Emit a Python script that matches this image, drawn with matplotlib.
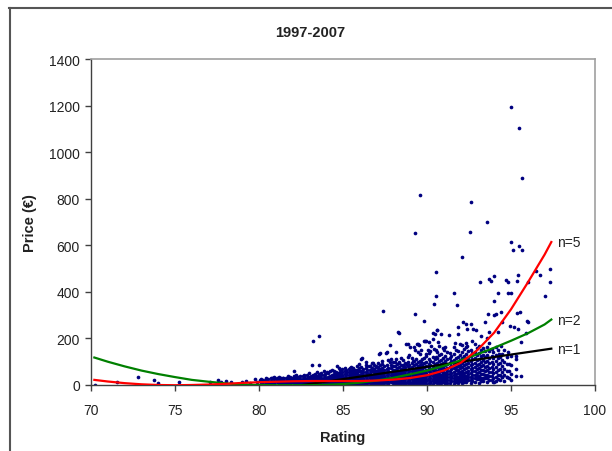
import matplotlib
matplotlib.use("Agg")
import matplotlib.pyplot as plt
from matplotlib.lines import Line2D

plt.rcParams["font.family"] = ["Liberation Sans", "DejaVu Sans"]

# wines rated below 80
tail_points = [(70.26, 2), (71.56, 14), (72.8, 33), (73.74, 21), (73.99, 9),
               (75.25, 12), (77.07, 12), (77.53, 23), (77.76, 14), (78.06, 18),
               (78.36, 14), (79.01, 14), (79.25, 16), (79.45, 8), (79.74, 26),
               (79.9, 12), (80.04, 21), (80.83, 30), (81.43, 30), (82.06, 59),
               (82.22, 33), (82.66, 40)]

# main cloud: one column of prices per rating
band_ratings = [80.1, 80.4, 80.7, 80.9, 81.2, 81.45, 81.7, 81.95, 82.2, 82.45,
                82.7, 82.95, 83.2, 83.45, 83.7, 83.95, 84.2, 84.45, 84.7, 84.95,
                85.2, 85.45, 85.7, 85.95, 86.2, 86.45, 86.7, 86.95, 87.2, 87.45,
                87.7, 87.95, 88.2, 88.45, 88.7, 88.95, 89.2, 89.45, 89.7, 89.95,
                90.2, 90.45, 90.7, 90.95, 91.2, 91.45, 91.7, 91.95, 92.2, 92.45,
                92.7, 92.95, 93.2, 93.45, 93.7, 93.95, 94.2, 94.45, 94.75, 95.0,
                95.3]
band_prices = [
    [8, 18, 27], [5, 14, 22, 30], [10, 19, 28], [6, 15, 24, 33],
    [9, 17, 26, 35], [4, 12, 21, 30], [8, 16, 25, 37], [11, 20, 29],
    [5, 14, 23, 33, 45], [9, 18, 27, 40], [3, 12, 21, 31, 42], [7, 16, 26, 36, 50],
    [4, 13, 22, 32, 44], [9, 18, 28, 39, 55], [2, 11, 20, 30, 41, 52], [6, 15, 24, 35, 47],
    [3, 12, 21, 30, 40, 58], [8, 17, 26, 36, 48, 62], [2, 10, 19, 28, 38, 50],
    [5, 14, 23, 33, 44, 57, 70],
    [3, 11, 20, 30, 41, 53, 66], [7, 16, 25, 35, 46, 60, 78], [2, 10, 19, 29, 40, 52, 65],
    [5, 14, 24, 34, 45, 58, 74, 90], [3, 12, 21, 31, 42, 55, 68],
    [8, 17, 27, 38, 50, 63, 80], [4, 13, 23, 33, 45, 58, 72, 95],
    [6, 15, 25, 36, 48, 61, 76], [3, 12, 22, 33, 44, 57, 70, 88],
    [8, 18, 28, 39, 51, 65, 82],
    [5, 14, 24, 35, 47, 60, 75, 108], [7, 17, 27, 38, 50, 64, 80, 97],
    [4, 13, 23, 34, 46, 59, 73, 90], [9, 19, 30, 41, 54, 68, 85, 118],
    [6, 15, 26, 37, 49, 62, 77, 95], [3, 12, 22, 33, 45, 58, 72, 88, 128],
    [8, 18, 29, 41, 54, 68, 84, 102], [5, 15, 26, 38, 51, 65, 80, 98, 140],
    [10, 20, 31, 43, 56, 70, 86, 110], [6, 16, 27, 39, 52, 66, 82, 100, 125],
    [9, 19, 30, 42, 55, 69, 85, 104, 145], [12, 22, 33, 45, 58, 73, 90, 112],
    [8, 18, 29, 41, 54, 68, 84, 102, 130], [14, 25, 37, 50, 64, 79, 96, 118, 160],
    [10, 21, 33, 46, 60, 75, 92, 112, 140], [16, 28, 40, 53, 67, 83, 101, 125],
    [12, 24, 36, 49, 63, 78, 95, 115, 150], [18, 30, 43, 57, 72, 88, 106, 130, 175],
    [14, 26, 39, 53, 68, 84, 102, 124, 155], [20, 33, 47, 62, 78, 96, 118, 145],
    [16, 29, 43, 58, 74, 92, 112, 138, 190], [24, 38, 53, 69, 86, 106, 130, 160],
    [18, 32, 47, 63, 80, 100, 124, 150, 210], [28, 44, 60, 78, 98, 120, 146],
    [22, 38, 55, 74, 95, 118, 144, 180], [12, 32, 50, 70, 92, 116, 140],
    [25, 44, 66, 90, 115, 150], [33, 55, 80, 108, 135], [33, 60, 90, 120],
    [20, 48, 85, 126], [40, 70, 110],
]

# second set of columns between the first ones
band2_ratings = [80.25, 80.55, 80.8, 81.05, 81.3, 81.6, 81.85, 82.1, 82.35, 82.6,
                 82.85, 83.1, 83.35, 83.6, 83.85, 84.1, 84.35, 84.6, 84.85, 85.1,
                 85.35, 85.6, 85.85, 86.1, 86.35, 86.6, 86.85, 87.1, 87.35, 87.6,
                 87.85, 88.1, 88.35, 88.6, 88.85, 89.1, 89.35, 89.6, 89.85, 90.1,
                 90.35, 90.6, 90.85, 91.1, 91.35, 91.6, 91.85, 92.1, 92.35, 92.6,
                 92.85, 93.1, 93.35, 93.6, 93.85, 94.1, 94.35, 94.6, 94.9]
band2_prices = [
    [12, 23], [9, 25], [14, 31], [11, 21, 28], [6, 14, 22, 31], [10, 19, 29],
    [6, 15, 24, 33], [9, 18, 28, 38], [4, 13, 23, 35], [8, 17, 26, 37],
    [5, 11, 21, 31, 45], [8, 18, 27, 38], [5, 14, 23, 34, 48], [7, 16, 25, 35, 46],
    [4, 10, 20, 30, 41, 58], [7, 16, 26, 35, 50], [4, 13, 22, 31, 43, 66],
    [6, 14, 23, 33, 44, 56], [9, 18, 28, 39, 50, 64], [7, 16, 25, 35, 47, 59, 75],
    [4, 12, 21, 31, 41, 54, 70], [6, 15, 24, 34, 46, 58, 72],
    [9, 19, 29, 40, 52, 66, 82], [7, 16, 26, 37, 48, 61, 76],
    [4, 13, 22, 33, 44, 57, 73, 88], [8, 18, 28, 39, 51, 65, 80],
    [10, 20, 30, 41, 54, 68, 86], [7, 17, 27, 38, 50, 63, 78, 96],
    [4, 14, 24, 35, 46, 59, 74, 92], [9, 19, 30, 42, 54, 68, 86],
    [11, 21, 32, 44, 57, 71, 88, 110], [8, 18, 29, 40, 52, 66, 82, 100],
    [5, 14, 25, 36, 48, 62, 78, 96], [10, 21, 32, 44, 57, 71, 88, 108],
    [7, 17, 28, 40, 52, 66, 81, 100, 122], [4, 14, 24, 36, 48, 62, 77, 94, 115],
    [10, 21, 33, 45, 59, 74, 90, 110], [7, 17, 29, 41, 54, 68, 84, 104, 132],
    [4, 13, 24, 35, 48, 62, 77, 94, 118], [9, 20, 32, 45, 58, 73, 90, 110, 138],
    [6, 16, 27, 39, 52, 66, 81, 98, 122], [10, 22, 35, 48, 62, 77, 94, 115, 142],
    [7, 19, 31, 44, 58, 73, 90, 108, 135], [5, 16, 28, 40, 53, 68, 84, 102, 125, 165],
    [9, 21, 34, 47, 61, 77, 94, 114, 138], [6, 18, 30, 43, 57, 72, 89, 108, 132, 162],
    [10, 23, 36, 50, 65, 80, 98, 120, 144], [8, 20, 33, 47, 62, 78, 96, 116, 140, 170],
    [12, 26, 40, 55, 71, 89, 108, 132, 165], [9, 22, 36, 51, 67, 84, 103, 126, 152],
    [14, 28, 43, 59, 76, 95, 116, 142, 178], [10, 24, 39, 55, 72, 90, 111, 136, 168],
    [16, 32, 48, 66, 85, 106, 130, 160], [12, 28, 45, 63, 83, 105, 130, 162, 200],
    [20, 38, 57, 78, 100, 125, 155], [16, 35, 56, 78, 103, 130, 165],
    [22, 44, 68, 95, 122], [18, 42, 70, 100, 150], [28, 58, 92],
]

# scattered points above the main cloud
upper_points = [(83.2, 187), (83.55, 212), (83.15, 87), (83.55, 86), (84.66, 83),
                (84.74, 72), (84.04, 54), (85.19, 61), (85.58, 66), (86.08, 112),
                (86.38, 97), (86.58, 83), (86.77, 93), (86.97, 83), (87.17, 133),
                (87.57, 137), (88.16, 112), (88.26, 226), (87.8, 172), (88.85, 176),
                (89.25, 162), (89.55, 172), (89.94, 190), (90.34, 223), (90.24, 169),
                (90.08, 152), (90.44, 155), (90.68, 183), (87.33, 104), (87.77, 97),
                (88.36, 100), (88.76, 90), (89.15, 104), (89.65, 97), (89.94, 133),
                (90.14, 83), (90.54, 119), (85.4, 73), (86.13, 115), (87.19, 137),
                (87.6, 140), (88.16, 140), (88.73, 176), (89.86, 189), (89.39, 176),
                (88.99, 164), (88.32, 224), (90.62, 236), (90.5, 219), (87.39, 316),
                (89.27, 306), (89.83, 276), (90.4, 346), (91.8, 342), (90.54, 382),
                (91.6, 393), (92.14, 272), (92.34, 260), (92.64, 260), (91.87, 250),
                (92.71, 240), (92.9, 237), (92.41, 240), (94.46, 272), (94.96, 252),
                (95.93, 276), (93.67, 229), (94.22, 229), (95.2, 250), (95.4, 240),
                (95.9, 223), (90.58, 237), (90.84, 219), (90.34, 197), (89.83, 190),
                (91.33, 215), (91.84, 219), (89.45, 175), (90.14, 183), (89.27, 150),
                (89.66, 150), (90.54, 150), (91.03, 150), (90.74, 169), (91.69, 180),
                (92.4, 166), (92.32, 180), (93.47, 272), (93.62, 306), (93.96, 302),
                (94.0, 360), (94.24, 393), (94.85, 393), (95.0, 393), (94.1, 305),
                (94.4, 312), (95.59, 183), (96.03, 269), (95.55, 315), (95.37, 309),
                (94.4, 169), (94.8, 140), (95.3, 126), (94.3, 133), (94.48, 33),
                (94.76, 33), (95.57, 37), (93.96, 12)]

# the most expensive wines
top_points = [(95.0, 1193), (95.45, 1104), (95.65, 888), (89.6, 817), (92.64, 787),
              (93.55, 700), (89.27, 651), (92.56, 655), (95.0, 615), (95.5, 595),
              (95.1, 579), (95.65, 579), (92.07, 549), (90.54, 484), (93.17, 443),
              (93.7, 455), (93.78, 448), (94.0, 468), (94.72, 452), (94.8, 443),
              (95.43, 473), (95.37, 448), (96.0, 443), (96.46, 491), (96.7, 473),
              (97.3, 498), (97.3, 443), (97.04, 382)]

# polynomial trendlines, degree 1, 2 and 5
fit_rating_n1 = [82.6, 90.0, 97.4]
fit_price_n1 = [0, 78, 156]
fit_rating = [70.2, 71, 72, 73, 74, 75, 76, 77, 78, 79, 80, 81, 82, 83, 84, 85,
              86, 87, 88, 89, 90, 91, 92, 93, 94, 95, 96, 97, 97.4]
fit_price_n2 = [118, 100, 80, 62, 47, 34, 22, 14, 7, 2, 0, -1, -1, -1, 1, 4,
                10, 19, 31, 46, 62, 82, 106, 132, 160, 190, 222, 260, 281]
fit_price_n5 = [22, 15, 8, 3, 0, -1, 0, 2, 5, 9, 12, 14, 16, 17, 17, 17,
                17, 19, 23, 30, 42, 62, 95, 150, 225, 325, 440, 560, 614]

# flatten everything into one scatter series
xs, ys = [], []
for r, p in tail_points + upper_points + top_points:
    xs.append(r)
    ys.append(p)
for ratings, prices in [(band_ratings, band_prices), (band2_ratings, band2_prices)]:
    for r, col in zip(ratings, prices):
        for p in col:
            xs.append(r)
            ys.append(p)

fig = plt.figure(figsize=(6.12, 4.52), dpi=100)
ax = fig.add_axes([91 / 612, 1 - 386 / 452, 504 / 612, 326 / 452])

ax.scatter(xs, ys, s=7, marker="o", color="#000080", linewidths=0, zorder=2)
ax.plot(fit_rating_n1, fit_price_n1, color="black", lw=1.6, zorder=3)
ax.plot(fit_rating, fit_price_n2, color="#008000", lw=1.6, zorder=4)
ax.plot(fit_rating, fit_price_n5, color="#ff0000", lw=1.6, zorder=5)

for rx, py, lab in [(fit_rating_n1[-1], fit_price_n1[-1], "n=1"),
                    (fit_rating[-1], fit_price_n2[-1], "n=2"),
                    (fit_rating[-1], fit_price_n5[-1], "n=5")]:
    ax.annotate(lab, (rx, py), xytext=(4, 0), textcoords="offset points",
                va="center", ha="left", fontsize=10, color="#222222")

ax.set_xlim(70, 100)
ax.set_ylim(0, 1400)
ax.set_xticks(range(70, 101, 5))
ax.set_yticks(range(0, 1401, 200))
ax.tick_params(direction="out", length=4, width=1, color="#404040",
               labelsize=10, labelcolor="#222222")
ax.tick_params(axis="x", pad=9)
ax.tick_params(axis="y", pad=4)

for side in ["left", "bottom"]:
    ax.spines[side].set_color("#404040")
    ax.spines[side].set_linewidth(1.0)
for side in ["top", "right"]:
    ax.spines[side].set_color("#a0a0a0")
    ax.spines[side].set_linewidth(1.2)

ax.set_xlabel("Rating", fontsize=10.5, fontweight="bold", color="#222222")
ax.xaxis.set_label_coords(0.5, -0.138)
ax.set_ylabel("Price (€)", fontsize=10.5, fontweight="bold", color="#222222")
ax.yaxis.set_label_coords(-0.107, 0.5)
fig.text(310 / 612, 1 - 33 / 452, "1997-2007", ha="center", va="center",
         fontsize=10.5, fontweight="bold", color="#222222")

# chart frame
fig.add_artist(Line2D([9 / 612, 1], [1 - 9 / 452, 1 - 9 / 452], color="#555555", lw=1.5))
fig.add_artist(Line2D([10 / 612, 10 / 612], [0, 1 - 9 / 452], color="#555555", lw=1.5))

fig.savefig("out.png", dpi=100)
